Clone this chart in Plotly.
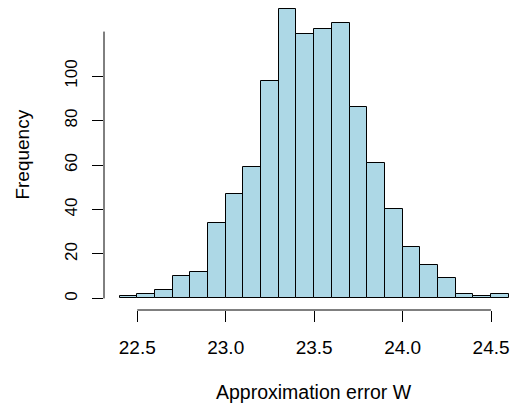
import plotly.graph_objects as go

bin_left = [22.4 + 0.1 * i for i in range(22)]
counts = [1, 2, 4, 10, 12, 34, 47, 59, 98, 130, 119, 121, 124, 86, 61, 40, 23, 15, 9, 2, 1, 2]
bin_width = 0.1
x_ticks = [22.5, 23.0, 23.5, 24.0, 24.5]
x_ticklabels = ["22.5", "23.0", "23.5", "24.0", "24.5"]
y_ticks = [0, 20, 40, 60, 80, 100]
y_ticklabels = ["0", "20", "40", "60", "80", "100"]

centers = [b + bin_width / 2 for b in bin_left]
font = "Liberation Sans, Arial, sans-serif"

fig = go.Figure(go.Bar(
    x=centers, y=counts, width=bin_width,
    marker=dict(color="#ADD8E6", line=dict(color="black", width=1)),
))

fig.update_layout(
    width=513, height=407,
    margin=dict(l=104, r=0, t=0, b=97, autoexpand=False),
    plot_bgcolor="white", paper_bgcolor="white",
    showlegend=False, bargap=0,
    font=dict(family=font, color="black"),
    xaxis=dict(range=[22.312, 24.624], tickvals=x_ticks, ticktext=x_ticklabels,
               ticks="outside", ticklen=11, tickcolor="black", tickwidth=1,
               showgrid=False, zeroline=False, showline=False, automargin=False,
               tickfont=dict(size=19, family=font, color="black"), ticklabelstandoff=9),
    yaxis=dict(range=[-5.2, 134.2], tickvals=y_ticks, ticktext=y_ticklabels,
               ticks="outside", ticklen=11, tickcolor="black", tickwidth=1,
               showgrid=False, zeroline=False, showline=False, tickangle=-90, automargin=False,
               tickfont=dict(size=17, family=font, color="black"), ticklabelstandoff=8),
    shapes=[
        dict(type="line", xref="x", yref="paper", x0=x_ticks[0], x1=x_ticks[-1], y0=0, y1=0,
             line=dict(color="black", width=1)),
        dict(type="line", xref="paper", yref="y", x0=0, x1=0, y0=y_ticks[0], y1=120,
             line=dict(color="black", width=1)),
    ],
    annotations=[
        dict(text="Approximation error W", xref="paper", yref="paper", x=0.513, y=-0.266,
             xanchor="center", yanchor="middle", showarrow=False,
             font=dict(size=19.5, family=font, color="black")),
        dict(text="Frequency", xref="paper", yref="paper", x=-0.2, y=0.502,
             xanchor="center", yanchor="middle", showarrow=False, textangle=-90,
             font=dict(size=19, family=font, color="black")),
    ],
)

fig.write_html("out.html", config={"displayModeBar": False},
               post_script="document.body.style.margin='0';")
